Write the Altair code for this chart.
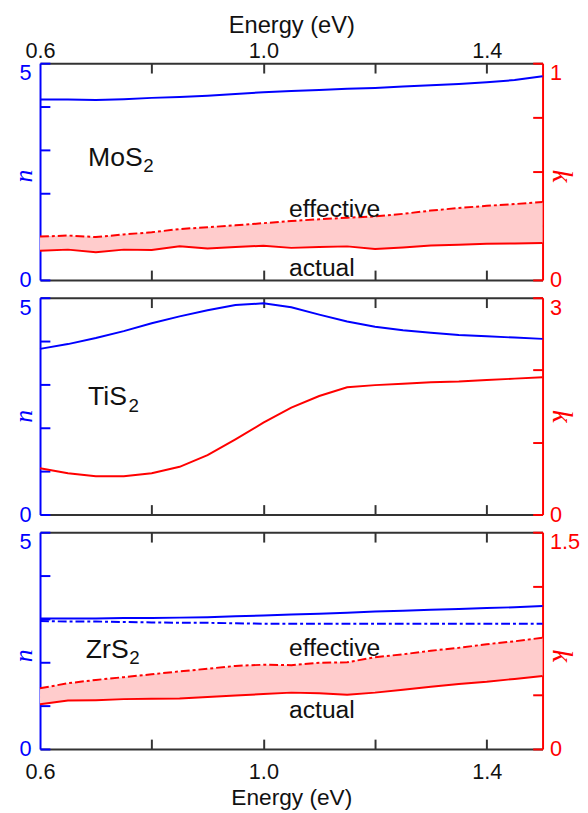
import altair as alt
import pandas as pd

# ---------------- data ----------------
energy = [0.60, 0.65, 0.70, 0.75, 0.80, 0.85, 0.90, 0.95, 1.00, 1.05,
          1.10, 1.15, 1.20, 1.25, 1.30, 1.35, 1.40, 1.45, 1.50]

mos2_n = [4.16, 4.16, 4.15, 4.17, 4.20, 4.22, 4.25, 4.29, 4.33, 4.36,
          4.38, 4.41, 4.43, 4.46, 4.49, 4.52, 4.56, 4.61, 4.70]
mos2_k_actual = [0.135, 0.140, 0.128, 0.140, 0.138, 0.155, 0.145, 0.152, 0.158, 0.148,
                 0.152, 0.155, 0.143, 0.150, 0.159, 0.162, 0.167, 0.168, 0.170]
mos2_k_effective = [0.200, 0.205, 0.198, 0.210, 0.220, 0.235, 0.243, 0.252, 0.262, 0.272,
                    0.280, 0.287, 0.293, 0.305, 0.320, 0.332, 0.342, 0.350, 0.360]

tis2_n = [3.82, 3.93, 4.07, 4.23, 4.41, 4.57, 4.71, 4.83, 4.87, 4.78,
          4.61, 4.45, 4.33, 4.25, 4.19, 4.14, 4.11, 4.08, 4.05]
tis2_k = [0.64, 0.57, 0.53, 0.53, 0.57, 0.66, 0.82, 1.04, 1.27, 1.48,
          1.64, 1.76, 1.79, 1.81, 1.83, 1.84, 1.86, 1.88, 1.90]

zrs2_n_actual = [3.01, 3.01, 3.01, 3.02, 3.02, 3.03, 3.04, 3.06, 3.08, 3.10,
                 3.12, 3.14, 3.17, 3.19, 3.21, 3.23, 3.25, 3.27, 3.30]
zrs2_n_effective = [2.95, 2.94, 2.94, 2.93, 2.92, 2.91, 2.91, 2.90, 2.89, 2.89,
                    2.89, 2.89, 2.89, 2.89, 2.89, 2.89, 2.89, 2.89, 2.89]
zrs2_k_actual = [0.310, 0.335, 0.338, 0.345, 0.348, 0.350, 0.360, 0.370, 0.380, 0.390,
                 0.385, 0.375, 0.390, 0.410, 0.430, 0.450, 0.465, 0.485, 0.505]
zrs2_k_effective = [0.420, 0.455, 0.478, 0.497, 0.517, 0.537, 0.555, 0.575, 0.583, 0.580,
                    0.597, 0.600, 0.635, 0.655, 0.680, 0.700, 0.725, 0.745, 0.770]

materials = ["MoS", "TiS", "ZrS"]
material_sub = "2"
material_pos = [(0.686, 2.64), (0.686, 2.53), (0.682, 2.11)]
k_max = [1.0, 3.0, 1.5]
k_tick_values = [[0, 0.25, 0.5, 0.75, 1.0], [0, 1, 2, 3], [0, 0.375, 0.75, 1.125, 1.5]]
n_tick_values = [0, 1, 2, 3, 4, 5]
x_tick_values = [0.8, 1.0, 1.2, 1.4]
x_label_values = [0.6, 1.0, 1.4]
note_labels = ["effective", "actual"]
note_pos = {0: [(1.046, 0.292), (1.046, 0.02)], 2: [(1.046, 0.643), (1.046, 0.211)]}

# ---------------- style ----------------
BLUE = "#0000ff"
RED = "#ff0000"
DARK = "#333333"
PINK = "#ffcccc"
TXT = "#111111"
FONT = "Liberation Sans"
SERIF = "Liberation Serif"
W, H = 510, 220
TICK = 10
DASH = [9, 3, 3, 3]
SUB_DX = [56, 41, 44]          # width of the formula text before the subscript
TITLE_Y = [114, 120, 125]      # vertical position of the rotated n / k titles

XS = alt.Scale(domain=[0.6, 1.5], nice=False, zero=False)


def top_baseline():
    return {"condition": {"test": "datum.value > 0", "value": "top"}, "value": "middle"}


def x_main(orient, show_labels):
    kw = dict(orient=orient, ticks=False, tickSize=0, grid=False,
              domainColor=DARK, domainWidth=2)
    if show_labels:
        top = orient == "top"
        kw.update(values=x_label_values, format=".1f", labelFlush=False,
                  labelFont=FONT, labelFontSize=22, labelColor=TXT,
                  labelBaseline="alphabetic" if top else "top",
                  labelPadding=6 if top else 13,
                  title="Energy (eV)", titleFont=FONT,
                  titleFontWeight="normal", titleColor=TXT,
                  titleBaseline="alphabetic")
        if top:
            kw.update(titleFontSize=24, titlePadding=7)
        else:
            kw.update(titleFontSize=23, titleY=56.5)
    else:
        kw.update(labels=False, title=None)
    return alt.Axis(**kw)


def x_ticks(orient):
    return alt.Axis(orient=orient, values=x_tick_values, labels=False, domain=False,
                    ticks=True, tickSize=TICK, tickWidth=2, tickColor=DARK,
                    offset=-TICK, grid=False, title=None)


def y_main(orient, values, color, title, ty):
    left = orient == "left"
    return alt.Axis(orient=orient, values=values, ticks=False, tickSize=0, grid=False,
                    domainColor=color, domainWidth=2, labelColor=color,
                    labelFont=FONT, labelFontSize=22, labelPadding=9 if left else 7,
                    labelExpr="datum.value + ''", labelBaseline=top_baseline(),
                    title=title, titleFont=SERIF, titleFontStyle="italic",
                    titleFontWeight="normal", titleFontSize=26 if left else 29,
                    titleColor=color, titleAngle=270 if left else 90,
                    titleX=-8.5 if left else 10, titleY=ty,
                    titleAlign="center", titleBaseline="alphabetic")


def y_ticks(orient, values, color):
    return alt.Axis(orient=orient, values=values, labels=False, domain=False,
                    ticks=True, tickSize=TICK, tickWidth=2, tickColor=color,
                    offset=-TICK, grid=False, title=None)


def panel(i, n_vals, k_vals, n_eff=None, k_eff=None):
    df = pd.DataFrame({"E": energy, "n": n_vals, "k": k_vals})
    if n_eff is not None:
        df["n_eff"] = n_eff
    if k_eff is not None:
        df["k_eff"] = k_eff
    kmax = k_max[i]
    nsc = alt.Scale(domain=[0, 5], nice=False, zero=False)
    ksc = alt.Scale(domain=[0, kmax], nice=False, zero=False)
    base = alt.Chart(df)
    layers = []
    if k_eff is not None:
        layers.append(base.mark_area(color=PINK, opacity=1).encode(
            x=alt.X("E:Q", scale=XS, axis=None),
            y=alt.Y("k_eff:Q", scale=ksc, axis=None),
            y2="k:Q"))
    # invisible layers carrying the inward tick axes
    layers.append(base.mark_line(opacity=0).encode(
        x=alt.X("E:Q", scale=XS, axis=x_ticks("bottom")),
        y=alt.Y("n:Q", scale=nsc, axis=y_ticks("left", n_tick_values, BLUE))))
    layers.append(base.mark_line(opacity=0).encode(
        x=alt.X("E:Q", scale=XS, axis=x_ticks("top")),
        y=alt.Y("k:Q", scale=ksc, axis=y_ticks("right", k_tick_values[i], RED))))
    if n_eff is not None:
        layers.append(base.mark_line(color=BLUE, strokeWidth=2, strokeDash=DASH).encode(
            x=alt.X("E:Q", scale=XS, axis=None),
            y=alt.Y("n_eff:Q", scale=nsc, axis=None)))
    if k_eff is not None:
        layers.append(base.mark_line(color=RED, strokeWidth=2, strokeDash=DASH).encode(
            x=alt.X("E:Q", scale=XS, axis=None),
            y=alt.Y("k_eff:Q", scale=ksc, axis=None)))
    layers.append(base.mark_line(color=BLUE, strokeWidth=2).encode(
        x=alt.X("E:Q", scale=XS, axis=x_main("bottom", i == 2)),
        y=alt.Y("n:Q", scale=nsc, axis=y_main("left", [0, 5], BLUE, "n", TITLE_Y[i]))))
    layers.append(base.mark_line(color=RED, strokeWidth=2).encode(
        x=alt.X("E:Q", scale=XS, axis=x_main("top", i == 0)),
        y=alt.Y("k:Q", scale=ksc, axis=y_main("right", [0, kmax], RED, "k", TITLE_Y[i]))))
    # material label with subscript
    mx, my = material_pos[i]
    mdf = pd.DataFrame({"E": [mx], "v": [my], "t": [materials[i]], "s": [material_sub]})
    mbase = alt.Chart(mdf)
    layers.append(mbase.mark_text(align="left", baseline="alphabetic", font=FONT,
                                  fontSize=27, color=TXT).encode(
        x=alt.X("E:Q", scale=XS, axis=None),
        y=alt.Y("v:Q", scale=nsc, axis=None), text="t:N"))
    layers.append(mbase.mark_text(align="left", baseline="alphabetic", font=FONT,
                                  fontSize=19, color=TXT, dx=SUB_DX[i], dy=7).encode(
        x=alt.X("E:Q", scale=XS, axis=None),
        y=alt.Y("v:Q", scale=nsc, axis=None), text="s:N"))
    if i in note_pos:
        ndf = pd.DataFrame({"E": [p[0] for p in note_pos[i]],
                            "v": [p[1] for p in note_pos[i]],
                            "t": note_labels})
        layers.append(alt.Chart(ndf).mark_text(align="left", baseline="alphabetic", font=FONT,
                                               fontSize=25, color=TXT).encode(
            x=alt.X("E:Q", scale=XS, axis=None),
            y=alt.Y("v:Q", scale=ksc, axis=None), text="t:N"))
    return alt.layer(*layers).resolve_scale(y="independent").resolve_axis(
        x="independent", y="independent").properties(width=W, height=H)


p1 = panel(0, mos2_n, mos2_k_actual, k_eff=mos2_k_effective)
p2 = panel(1, tis2_n, tis2_k)
p3 = panel(2, zrs2_n_actual, zrs2_k_actual, n_eff=zrs2_n_effective, k_eff=zrs2_k_effective)

chart = alt.vconcat(p1, p2, p3, spacing=6).properties(
    padding={"left": 2.5, "right": 0, "top": 0, "bottom": 0}
).configure_view(stroke=None)

chart.save("out.html", embed_options={"renderer": "svg", "actions": False})
